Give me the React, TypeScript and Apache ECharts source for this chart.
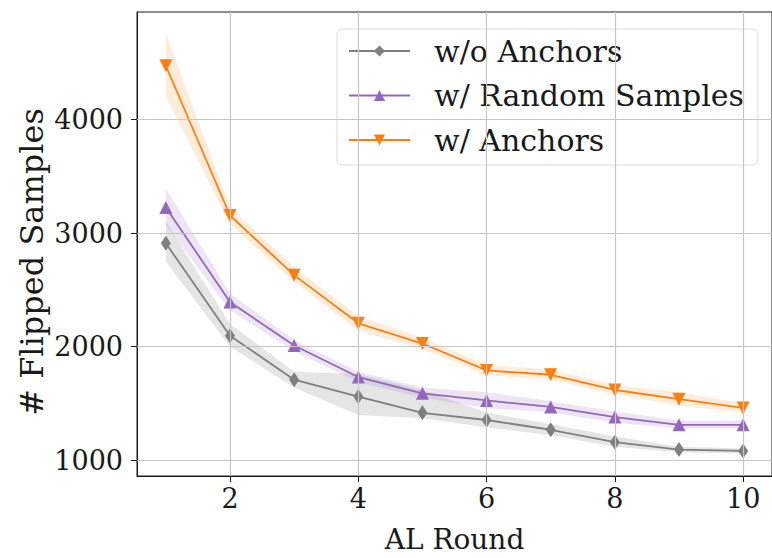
import React, { useEffect, useRef } from "react";
import * as echarts from "echarts";

const rounds = [1, 2, 3, 4, 5, 6, 7, 8, 9, 10];
const xTicks = [2, 4, 6, 8, 10];
const yTicks = [1000, 2000, 3000, 4000];

const seriesNames = ["w/o Anchors", "w/ Random Samples", "w/ Anchors"];
const xTitle = "AL Round";
const yTitle = "# Flipped Samples";

const noAnchorMean = [2911, 2097, 1710, 1561, 1418, 1355, 1269, 1160, 1095, 1083];
const noAnchorLow = [2750, 2000, 1640, 1400, 1370, 1290, 1220, 1120, 1070, 1060];
const noAnchorHigh = [3100, 2200, 1780, 1760, 1620, 1420, 1320, 1210, 1120, 1105];

const randomMean = [3226, 2393, 2011, 1733, 1590, 1527, 1470, 1381, 1312, 1312];
const randomLow = [3070, 2320, 1960, 1690, 1550, 1460, 1420, 1330, 1280, 1280];
const randomHigh = [3390, 2470, 2060, 1780, 1640, 1600, 1520, 1430, 1350, 1350];

const anchorMean = [4473, 3155, 2630, 2206, 2028, 1791, 1753, 1619, 1538, 1461];
const anchorLow = [4200, 3080, 2570, 2140, 1980, 1750, 1710, 1580, 1480, 1420];
const anchorHigh = [4760, 3230, 2700, 2270, 2080, 1840, 1800, 1660, 1600, 1500];

const COLORS = ["#7f7f7f", "#9467bd", "#ff7f0e"];
const BAND_COLORS = ["rgba(127,127,127,0.2)", "rgba(148,103,189,0.17)", "rgba(255,127,14,0.15)"];
const FONT = "DejaVu Serif";

function band(name: string, lo: number[], hi: number[], fill: string) {
  return {
    type: "custom",
    name,
    silent: true,
    z: 1,
    data: rounds.map((r, i) => [r, lo[i], hi[i]]),
    encode: { x: 0, y: [1, 2] },
    renderItem: (params: any, api: any) => {
      if (params.dataIndex !== 0) return null;
      const pts: number[][] = [];
      for (let i = 0; i < rounds.length; i++) pts.push(api.coord([rounds[i], hi[i]]));
      for (let i = rounds.length - 1; i >= 0; i--) pts.push(api.coord([rounds[i], lo[i]]));
      return { type: "polygon", shape: { points: pts }, style: { fill, stroke: "none" } };
    },
  };
}

function line(name: string, values: number[], color: string, symbol: string, size: any, rotate: number) {
  return {
    type: "line",
    name,
    z: 3,
    data: rounds.map((r, i) => [r, values[i]]),
    symbol,
    symbolSize: size,
    symbolRotate: rotate,
    showSymbol: true,
    lineStyle: { color, width: 1.8 },
    itemStyle: { color },
  };
}

export default function App() {
  const ref = useRef<HTMLDivElement>(null);
  useEffect(() => {
    if (!ref.current) return;
    const chart = echarts.init(ref.current, null, { renderer: "svg" });
    chart.setOption({
      animation: false,
      backgroundColor: "#ffffff",
      textStyle: { fontFamily: FONT },
      grid: {
        left: 137,
        top: 12,
        right: 0,
        bottom: 71,
        show: true,
        borderColor: "#1a1a1a",
        borderWidth: 1,
      },
      graphic: [
        {
          type: "text",
          x: 32,
          y: 262,
          rotation: Math.PI / 2,
          style: {
            text: yTitle,
            fontFamily: FONT,
            fontSize: 32,
            fill: "#1a1a1a",
            align: "center",
            verticalAlign: "middle",
          },
        },
      ],
      legend: {
        data: seriesNames,
        orient: "vertical",
        left: 337,
        top: 29,
        width: 420,
        padding: [6, 14, 9, 11],
        itemWidth: 61,
        itemHeight: 14,
        itemGap: 12.5,
        backgroundColor: "rgba(255,255,255,0.85)",
        borderColor: "#dcdcdc",
        borderWidth: 1,
        borderRadius: 5,
        textStyle: {
          fontFamily: FONT,
          fontSize: 30,
          color: "#1a1a1a",
          lineHeight: 32,
          padding: [0, 0, 0, 19],
        },
      },
      xAxis: {
        type: "value",
        min: 0.55,
        max: 10.45,
        name: xTitle,
        nameLocation: "middle",
        nameGap: 49,
        nameTextStyle: { fontFamily: FONT, fontSize: 28, color: "#1a1a1a" },
        axisLine: { show: true, lineStyle: { color: "#1a1a1a", width: 1 } },
        axisTick: { show: true, length: 6, customValues: xTicks, lineStyle: { color: "#1a1a1a" } },
        axisLabel: {
          customValues: xTicks,
          fontFamily: FONT,
          fontSize: 27,
          color: "#1a1a1a",
          margin: 9,
          formatter: (v: number) => String(v),
        },
        splitLine: { show: false },
      },
      yAxis: {
        type: "value",
        min: 862,
        max: 4946,
        axisLine: { show: true, lineStyle: { color: "#1a1a1a", width: 1 } },
        axisTick: { show: true, length: 6, customValues: yTicks, lineStyle: { color: "#1a1a1a" } },
        axisLabel: {
          customValues: yTicks,
          fontFamily: FONT,
          fontSize: 27,
          color: "#1a1a1a",
          margin: 14,
          formatter: (v: number) => String(v),
        },
        splitLine: { show: false },
      },
      series: [
        band("band0", noAnchorLow, noAnchorHigh, BAND_COLORS[0]),
        band("band1", randomLow, randomHigh, BAND_COLORS[1]),
        band("band2", anchorLow, anchorHigh, BAND_COLORS[2]),
        {
          type: "line",
          name: "grid",
          z: 2,
          silent: true,
          data: [],
          markLine: {
            silent: true,
            symbol: ["none", "none"],
            label: { show: false },
            lineStyle: { color: "#c6c6c6", type: "solid", width: 1.2 },
            data: [
              ...yTicks.map((v) => ({ yAxis: v })),
              ...xTicks.map((v) => ({ xAxis: v })),
            ],
          },
        },
        line(seriesNames[0], noAnchorMean, COLORS[0], "diamond", [10, 15], 0),
        line(seriesNames[1], randomMean, COLORS[1], "triangle", 13, 0),
        line(seriesNames[2], anchorMean, COLORS[2], "triangle", 13, 180),
      ],
    });
    return () => chart.dispose();
  }, []);
  return (
    <div
      ref={ref}
      style={{ position: "absolute", left: 0, top: 0, width: 772, height: 558 }}
    />
  );
}
